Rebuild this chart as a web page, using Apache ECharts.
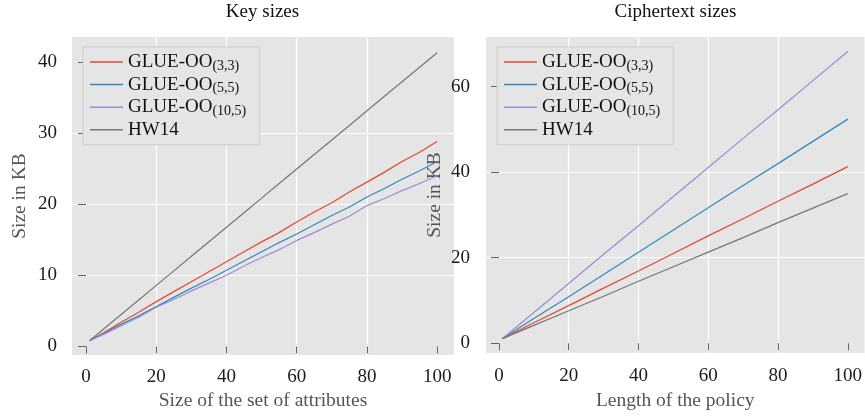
<!DOCTYPE html>
<html>
<head>
<meta charset="utf-8">
<script src="https://cdn.jsdelivr.net/npm/echarts@6/dist/echarts.min.js"></script>
<style>
  html, body { margin: 0; padding: 0; background: #ffffff; }
  #chart { width: 865px; height: 416px; }
</style>
</head>
<body>
<div id="chart"></div>
<script>
// ---------- data ----------
const seriesNames = ['GLUE-OO(3,3)', 'GLUE-OO(5,5)', 'GLUE-OO(10,5)', 'HW14'];
const xTicks = [0, 20, 40, 60, 80, 100];
const keyYTicks = [0, 10, 20, 30, 40];
const cipherYTicks = [0, 20, 40, 60];

// Key sizes (KB) vs size of attribute set
const keyX      = [1, 5, 10, 15, 20, 25, 30, 35, 40, 45, 50, 55, 60, 65, 70, 75, 80, 85, 90, 95, 100];
const keyGlue33 = [0.8, 1.9, 3.4, 4.8, 6.3, 7.7, 9.1, 10.5, 11.9, 13.3, 14.7, 16.0, 17.5, 18.9, 20.2, 21.7, 23.1, 24.5, 26.0, 27.3, 28.8];
const keyGlue55 = [0.8, 1.8, 3.1, 4.3, 5.6, 6.9, 8.2, 9.4, 10.7, 12.0, 13.3, 14.6, 15.8, 17.1, 18.4, 19.6, 21.0, 22.2, 23.5, 24.7, 26.0];
const keyGlue105= [0.8, 1.7, 2.9, 4.1, 5.5, 6.6, 7.8, 8.9, 10.0, 11.3, 12.5, 13.6, 14.9, 16.0, 17.2, 18.3, 19.8, 20.8, 21.9, 22.9, 24.0];
const keyHW14   = [0.8, 2.44, 4.49, 6.53, 8.58, 10.62, 12.67, 14.71, 16.76, 18.8, 20.85, 22.89, 24.94, 26.98, 29.03, 31.07, 33.12, 35.16, 37.21, 39.25, 41.3];

// Ciphertext sizes (KB) vs length of policy
const cipX       = [1, 10, 20, 30, 40, 50, 60, 70, 80, 90, 100];
const cipGlue33  = [1.1, 4.8, 8.8, 12.9, 16.9, 21.0, 25.1, 29.1, 33.2, 37.2, 41.3];
const cipGlue55  = [1.1, 5.8, 10.9, 16.1, 21.3, 26.5, 31.7, 36.9, 42.0, 47.2, 52.4];
const cipGlue105 = [1.1, 7.2, 14.0, 20.8, 27.5, 34.3, 41.1, 47.9, 54.6, 61.4, 68.2];
const cipHW14    = [1.1, 4.2, 7.6, 11.0, 14.5, 17.9, 21.3, 24.7, 28.2, 31.6, 35.0];

// ---------- style ----------
const FONT = 'Liberation Serif';
const colors = ['#E24A33', '#348ABD', '#988ED5', '#777777'];
const PANEL = '#E5E5E5';

function pairs(xs, ys) { return xs.map((x, i) => [x, ys[i]]); }

function legendFormatter(name) {
  const m = name.match(/^(.*?)(\(.*\))$/);
  if (m) return m[1] + '{sub|' + m[2] + '}';
  return name;
}

function makeLegend(left) {
  return {
    orient: 'vertical',
    left: left, top: 47,
    data: seriesNames,
    padding: [4, 13, 4, 7],
    itemGap: 0.6,
    itemWidth: 33, itemHeight: 1.5,
    icon: 'rect',
    backgroundColor: PANEL,
    borderColor: '#CCCCCC', borderWidth: 1,
    selectedMode: false,
    formatter: legendFormatter,
    textStyle: {
      fontFamily: FONT, fontSize: 19, color: '#111', lineHeight: 22,
      rich: {
        sub: { fontFamily: FONT, fontSize: 14, color: '#111', lineHeight: 10, verticalAlign: 'bottom' }
      }
    }
  };
}

function xAxisCfg(gridIndex, min, max, name, labelMargin, nameGap) {
  return {
    type: 'value', gridIndex, min, max,
    minInterval: 20, maxInterval: 20,
    name, nameLocation: 'middle', nameGap,
    nameTextStyle: { fontFamily: FONT, fontSize: 19.5, color: '#555' },
    axisLine: { show: false },
    axisTick: { show: true, inside: false, length: 7, customValues: xTicks, lineStyle: { color: '#666', width: 1 } },
    axisLabel: { fontFamily: FONT, fontSize: 19, color: '#1a1a1a', margin: labelMargin, customValues: xTicks },
    splitLine: { show: true, showMinLine: false, showMaxLine: false, lineStyle: { color: '#FFFFFF', width: 1.2 } }
  };
}

function yAxisCfg(gridIndex, min, max, step, ticks, labelMargin, nameGap) {
  return {
    type: 'value', gridIndex, min, max,
    minInterval: step, maxInterval: step,
    name: 'Size in KB', nameLocation: 'middle', nameGap,
    nameTextStyle: { fontFamily: FONT, fontSize: 19.5, color: '#555' },
    axisLine: { show: false },
    axisTick: { show: true, inside: false, length: 8, customValues: ticks, lineStyle: { color: '#666', width: 1 } },
    axisLabel: { fontFamily: FONT, fontSize: 19, color: '#1a1a1a', margin: labelMargin, customValues: ticks },
    splitLine: { show: true, showMinLine: false, showMaxLine: false, lineStyle: { color: '#FFFFFF', width: 1.2 } }
  };
}

function lineSeries(name, xIdx, yIdx, data, color) {
  return {
    type: 'line', name, xAxisIndex: xIdx, yAxisIndex: yIdx,
    data, symbol: 'none', animation: false,
    lineStyle: { color, width: 1.25 },
    itemStyle: { color }
  };
}

const chart = echarts.init(document.getElementById('chart'), null, { renderer: 'canvas' });
chart.setOption({
  animation: false,
  color: colors,
  graphic: [
    { type: 'text', x: 262.5, y: 12, style: { text: 'Key sizes', font: '19px "Liberation Serif"', fill: '#111', textAlign: 'center', textVerticalAlign: 'middle' } },
    { type: 'text', x: 675.5, y: 12, style: { text: 'Ciphertext sizes', font: '19px "Liberation Serif"', fill: '#111', textAlign: 'center', textVerticalAlign: 'middle' } }
  ],
  grid: [
    { left: 72, top: 37, width: 382, height: 319, show: true, backgroundColor: PANEL, borderWidth: 0 },
    { left: 486, top: 37, width: 379, height: 316, show: true, backgroundColor: PANEL, borderWidth: 0 }
  ],
  legend: [makeLegend(83), makeLegend(497)],
  xAxis: [
    xAxisCfg(0, -4, 104.8, 'Size of the set of attributes', 12, 34),
    xAxisCfg(1, -3.72, 104.8, 'Length of the policy', 14, 36)
  ],
  yAxis: [
    yAxisCfg(0, -1.22, 43.5, 10, keyYTicks, 15, 42),
    yAxisCfg(1, -2.27, 71.6, 20, cipherYTicks, 16, 41)
  ],
  series: [
    lineSeries(seriesNames[0], 0, 0, pairs(keyX, keyGlue33), colors[0]),
    lineSeries(seriesNames[1], 0, 0, pairs(keyX, keyGlue55), colors[1]),
    lineSeries(seriesNames[2], 0, 0, pairs(keyX, keyGlue105), colors[2]),
    lineSeries(seriesNames[3], 0, 0, pairs(keyX, keyHW14), colors[3]),
    lineSeries(seriesNames[0], 1, 1, pairs(cipX, cipGlue33), colors[0]),
    lineSeries(seriesNames[1], 1, 1, pairs(cipX, cipGlue55), colors[1]),
    lineSeries(seriesNames[2], 1, 1, pairs(cipX, cipGlue105), colors[2]),
    lineSeries(seriesNames[3], 1, 1, pairs(cipX, cipHW14), colors[3])
  ]
});
</script>
</body>
</html>
